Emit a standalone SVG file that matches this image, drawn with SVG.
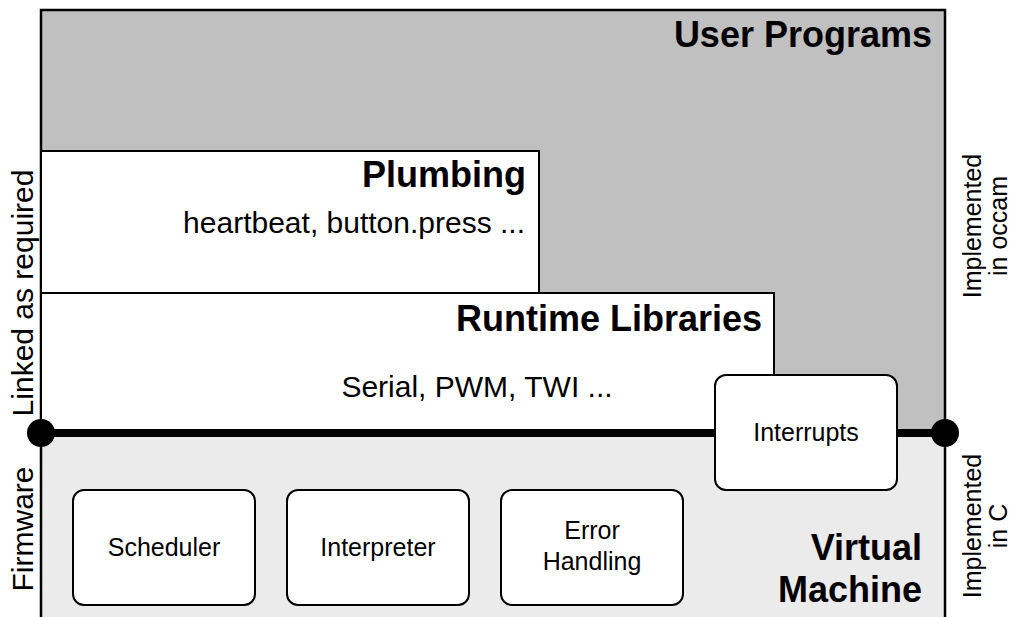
<svg xmlns="http://www.w3.org/2000/svg" width="1012" height="617" viewBox="0 0 1012 617">
<style>
text{font-family:"Liberation Sans",Arial,sans-serif;fill:#000}
.t{font-weight:bold;font-size:36px;text-anchor:end}
.r{font-size:30px}
.n{font-size:25px;text-anchor:middle}
.v{font-size:30px;text-anchor:middle}
.s{font-size:25px;text-anchor:middle}
.box{fill:#fff;stroke:#000;stroke-width:2}
</style>
<rect width="1012" height="617" fill="#fff"/>
<g id="user-programs">
<rect x="41" y="10" width="904" height="423" fill="#c0c0c0" stroke="#000" stroke-width="2.5"/>
<text class="t" x="932" y="47">User Programs</text>
</g>
<g id="plumbing">
<rect x="41" y="151" width="498" height="142" fill="#fff" stroke="#000" stroke-width="2"/>
<text class="t" x="526" y="187">Plumbing</text>
<text class="r" x="525" y="233" text-anchor="end">heartbeat, button.press ...</text>
</g>
<g id="runtime-libraries">
<rect x="41" y="293" width="733" height="140" fill="#fff" stroke="#000" stroke-width="2"/>
<text class="t" x="762" y="331">Runtime Libraries</text>
<text class="r" x="477" y="397" text-anchor="middle">Serial, PWM, TWI ...</text>
</g>
<g id="virtual-machine">
<rect x="41" y="433" width="904" height="200" fill="#ebebeb" stroke="#000" stroke-width="2.5"/>
<text class="t" x="922" y="560">Virtual</text>
<text class="t" x="922" y="602">Machine</text>
</g>
<g id="connectors">
<line x1="41" y1="433" x2="945" y2="433" stroke="#000" stroke-width="8"/>
<circle cx="41" cy="433" r="14" fill="#000"/>
<circle cx="945" cy="433" r="14" fill="#000"/>
</g>
<g id="interrupts">
<rect class="box" x="715" y="375" width="182" height="115" rx="11"/>
<text class="n" x="806" y="441">Interrupts</text>
</g>
<g id="scheduler">
<rect class="box" x="73" y="490" width="182" height="115" rx="11"/>
<text class="n" x="164" y="556">Scheduler</text>
</g>
<g id="interpreter">
<rect class="box" x="287" y="490" width="182" height="115" rx="11"/>
<text class="n" x="378" y="556">Interpreter</text>
</g>
<g id="error-handling">
<rect class="box" x="501" y="490" width="182" height="115" rx="11"/>
<text class="n" x="592" y="539">Error</text>
<text class="n" x="592" y="570">Handling</text>
</g>
<g id="side-labels">
<text class="v" transform="translate(33,293) rotate(-90)">Linked as required</text>
<text class="v" font-size="32" transform="translate(33,529) rotate(-90)">Firmware</text>
<text class="s" transform="translate(981,226) rotate(-90)">Implemented</text>
<text class="s" transform="translate(1007,226) rotate(-90)">in occam</text>
<text class="s" transform="translate(981,526) rotate(-90)">Implemented</text>
<text class="s" transform="translate(1007,526) rotate(-90)">in C</text>
</g>
</svg>
